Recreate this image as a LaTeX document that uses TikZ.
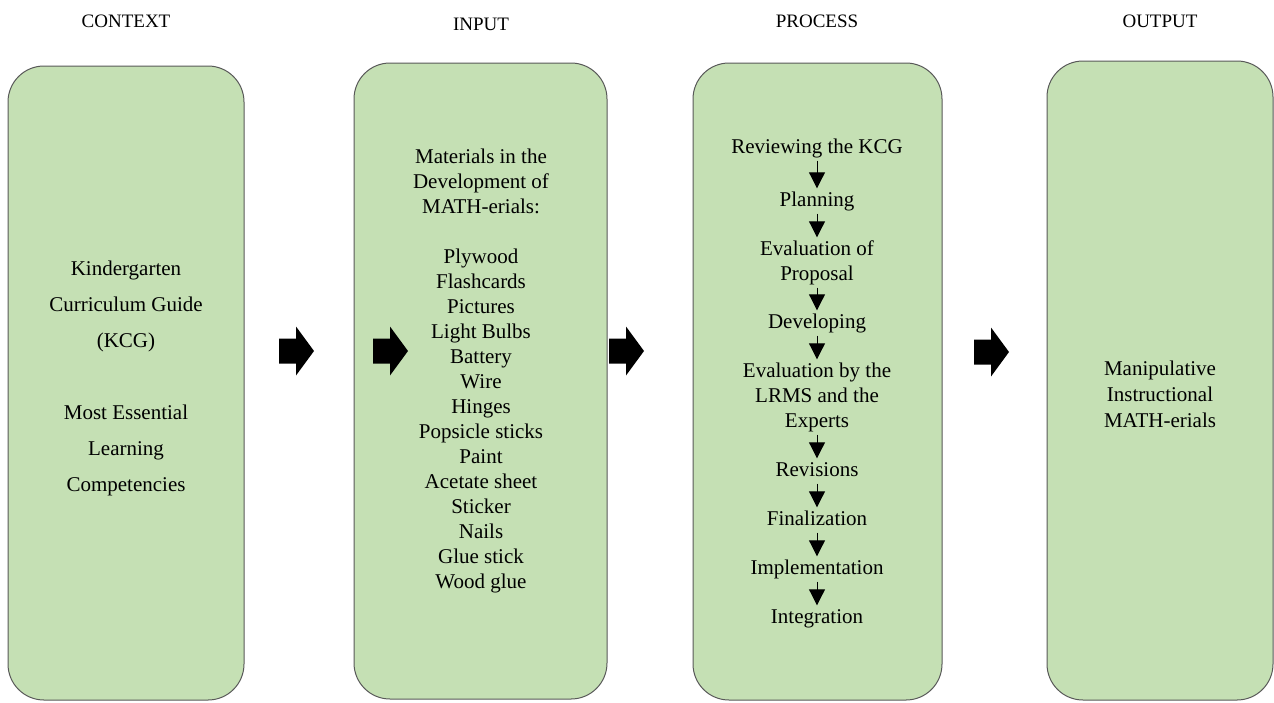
\documentclass[tikz,border=0pt]{standalone}
\usepackage{fontspec}
\setmainfont{Liberation Serif}
\usepackage{xcolor}
\usetikzlibrary{arrows.meta}

\definecolor{panelgreen}{HTML}{C5E0B4}
\newcommand{\bodyfont}{\fontsize{21}{25}\selectfont}

\begin{document}
\begin{tikzpicture}[
        x=1pt, y=-1pt,
        panel/.style={draw=black!65, line width=1pt, fill=panelgreen, rounded corners=36pt, inner sep=0pt},
        head/.style={font=\fontsize{19}{22}\selectfont, inner sep=0pt},
        txt/.style={font=\bodyfont, align=center, inner sep=0pt},
        flow/.style={-{Triangle[width=16pt, length=16pt]}, line width=1pt},
        blockarrow/.pic={\fill (0,-12.5) -- (17,-12.5) -- (17,-24.5) -- (35,0) -- (17,24.5) -- (17,12.5) -- (0,12.5) -- cycle;}
    ]
    \useasboundingbox (0,0) rectangle (1274,702);

    % column headings
    \node[head] (hctx)  at (126,21)  {CONTEXT};
    \node[head] (hinp)  at (481,24)  {INPUT};
    \node[head] (hproc) at (817,21)  {PROCESS};
    \node[head] (hout)  at (1160,21) {OUTPUT};

    % panels
    \node[panel, minimum width=236pt, minimum height=634pt] (ctx)  at (126,383)    {};
    \node[panel, minimum width=253pt, minimum height=636pt] (inp)  at (480.5,381)  {};
    \node[panel, minimum width=249pt, minimum height=637pt] (proc) at (817.5,381.5) {};
    \node[panel, minimum width=226pt, minimum height=639pt] (outp) at (1160,380.5) {};

    % block arrows
    \pic (arrA) at (279,351) {blockarrow};
    \pic (arrB) at (373,351) {blockarrow};
    \pic (arrC) at (609,351) {blockarrow};
    \pic (arrD) at (974,352) {blockarrow};

    % context
    \node[txt, font=\fontsize{21}{36}\selectfont] (ctxtext) at (126,376)
        {\strut Kindergarten\\Curriculum Guide\\(KCG)\\[36pt]Most Essential\\Learning\\Competencies\strut};

    % input
    \node[txt] (inptext) at (481,370.5)
        {\strut Materials in the\\Development of\\MATH-erials:\\[25pt]Plywood\\Flashcards\\Pictures\\Light Bulbs\\Battery\\Wire\\Hinges\\Popsicle sticks\\Paint\\Acetate sheet\\Sticker\\Nails\\Glue stick\\Wood glue\strut};

    % process steps
    \node[txt] (s1) at (817,148)   {\strut Reviewing the KCG};
    \node[txt] (s2) at (817,201)   {\strut Planning};
    \node[txt] (s3) at (817,262.5) {\strut Evaluation of\\Proposal\strut};
    \node[txt] (s4) at (817,323)   {\strut Developing};
    \node[txt] (s5) at (817,397)   {\strut Evaluation by the\\LRMS and the\\Experts\strut};
    \node[txt] (s6) at (817,471)   {\strut Revisions};
    \node[txt] (s7) at (817,520)   {\strut Finalization};
    \node[txt] (s8) at (817,569)   {\strut Implementation};
    \node[txt] (s9) at (817,618)   {\strut Integration};

    \foreach \a/\b in {s1/s2, s2/s3, s3/s4, s4/s5, s5/s6, s6/s7, s7/s8, s8/s9}
        \draw[flow] (\a) -- (\b);

    % output
    \node[txt, font=\fontsize{21}{26}\selectfont] (outtext) at (1160,396)
        {\strut Manipulative\\Instructional\\MATH-erials\strut};
\end{tikzpicture}
\end{document}
